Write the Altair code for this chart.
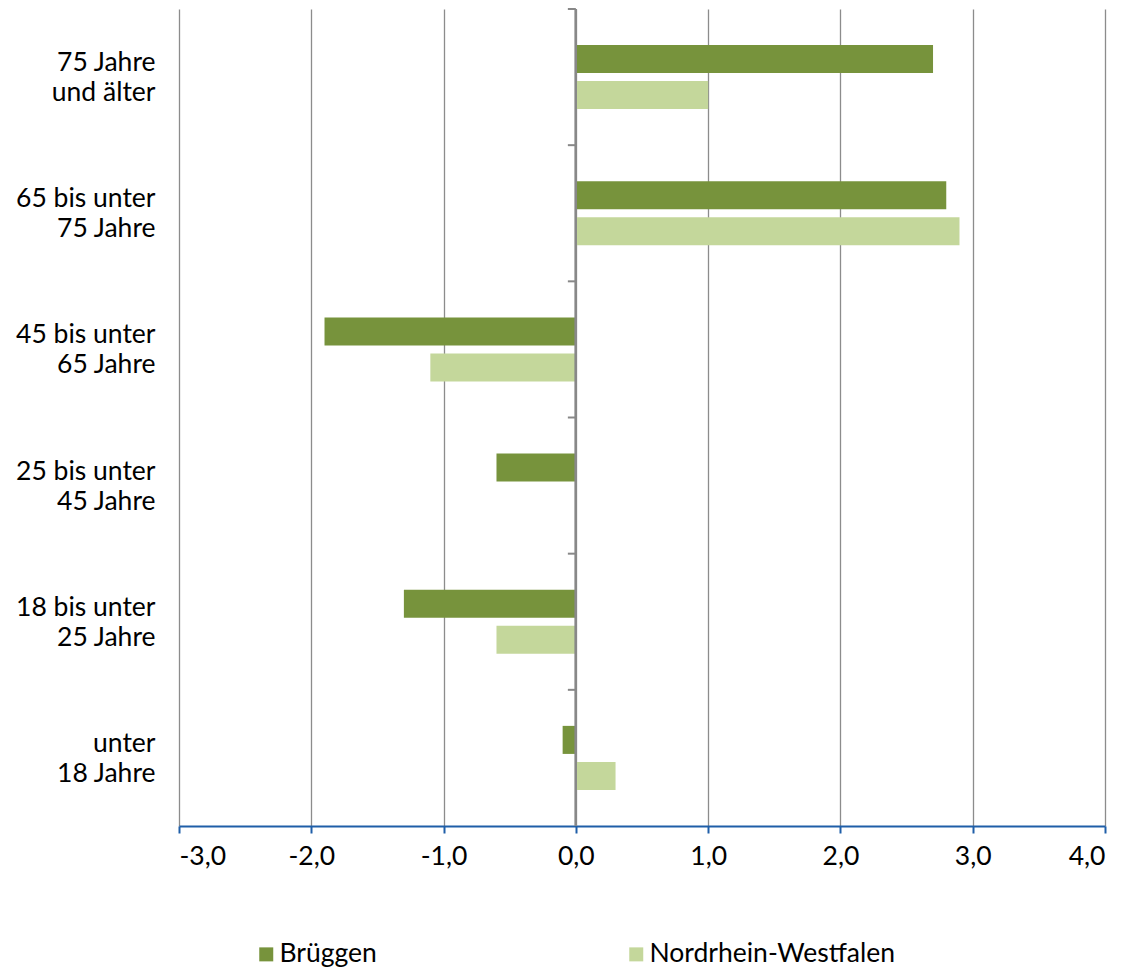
import altair as alt
import pandas as pd

categories = ["75 Jahre|und älter", "65 bis unter|75 Jahre", "45 bis unter|65 Jahre",
              "25 bis unter|45 Jahre", "18 bis unter|25 Jahre", "unter|18 Jahre"]
series = ["Brüggen", "Nordrhein-Westfalen"]
brueggen = [2.7, 2.8, -1.9, -0.6, -1.3, -0.1]
nrw = [1.0, 2.9, -1.1, 0.0, -0.6, 0.3]
x_ticks = [-3, -2, -1, 0, 1, 2, 3, 4]
colors = ["#77933c", "#c4d79b"]

rows = []
for c, b, n in zip(categories, brueggen, nrw):
    rows.append({"cat": c, "series": series[0], "value": b})
    rows.append({"cat": c, "series": series[1], "value": n})
df = pd.DataFrame(rows)
cat_df = pd.DataFrame({"cat": categories})

FONT = "Lato"
FS = 26.5

yscale = alt.Scale(domain=categories, paddingInner=0, paddingOuter=0)
xscale = alt.Scale(domain=[-3, 4], nice=False, zero=False)

bars = alt.Chart(df).mark_bar().encode(
    x=alt.X("value:Q", scale=xscale,
            axis=alt.Axis(values=x_ticks, title=None,
                          labelExpr="(datum.value < 0 ? '-' : '') + replace(format(abs(datum.value), '.1f'), '.', ',')",
                          grid=True, gridColor="#8c8c8c", gridWidth=1.3,
                          domainColor="#1f5ea8", domainWidth=2,
                          tickColor="#1f5ea8", tickWidth=2, tickSize=7,
                          labelPadding=10, labelFontSize=FS, labelFont=FONT,
                          labelColor="#000000")),
    y=alt.Y("cat:N", scale=yscale,
            axis=alt.Axis(title=None, ticks=False, domain=False, grid=False,
                          labelExpr="split(datum.value, '|')",
                          labelPadding=24, labelFontSize=FS, labelFont=FONT,
                          labelColor="#000000", labelLineHeight=30,
                          labelBaseline="middle", labelOffset=-14,
                          minExtent=171, maxExtent=171)),
    yOffset=alt.YOffset("series:N", scale=alt.Scale(domain=series, paddingInner=0.222, paddingOuter=1.0)),
    color=alt.Color("series:N", scale=alt.Scale(domain=series, range=colors),
                    legend=alt.Legend(title=None, orient="none", direction="horizontal",
                                      legendX=74, legendY=932, padding=0,
                                      symbolType="square", symbolSize=196,
                                      symbolStrokeWidth=0, labelFontSize=FS,
                                      labelFont=FONT, labelColor="#000000",
                                      labelOffset=0, columnPadding=246, labelLimit=400)),
)

zero_line = alt.Chart(cat_df).mark_rule(color="#888888", strokeWidth=2).encode(
    x=alt.datum(0, scale=xscale)
)

zero_ticks = alt.Chart(cat_df).mark_rule(color="#888888", strokeWidth=2, x2Offset=-8).encode(
    y=alt.Y("cat:N", scale=yscale, bandPosition=0),
    x=alt.datum(0, scale=xscale),
    x2=alt.datum(0),
)

chart = alt.layer(bars, zero_line, zero_ticks).properties(
    width=926, height=817,
    padding={"left": 0, "top": 0, "right": 10, "bottom": 10},
).configure_view(stroke=None)

chart.save("out.html", embed_options={"renderer": "svg", "actions": False})
